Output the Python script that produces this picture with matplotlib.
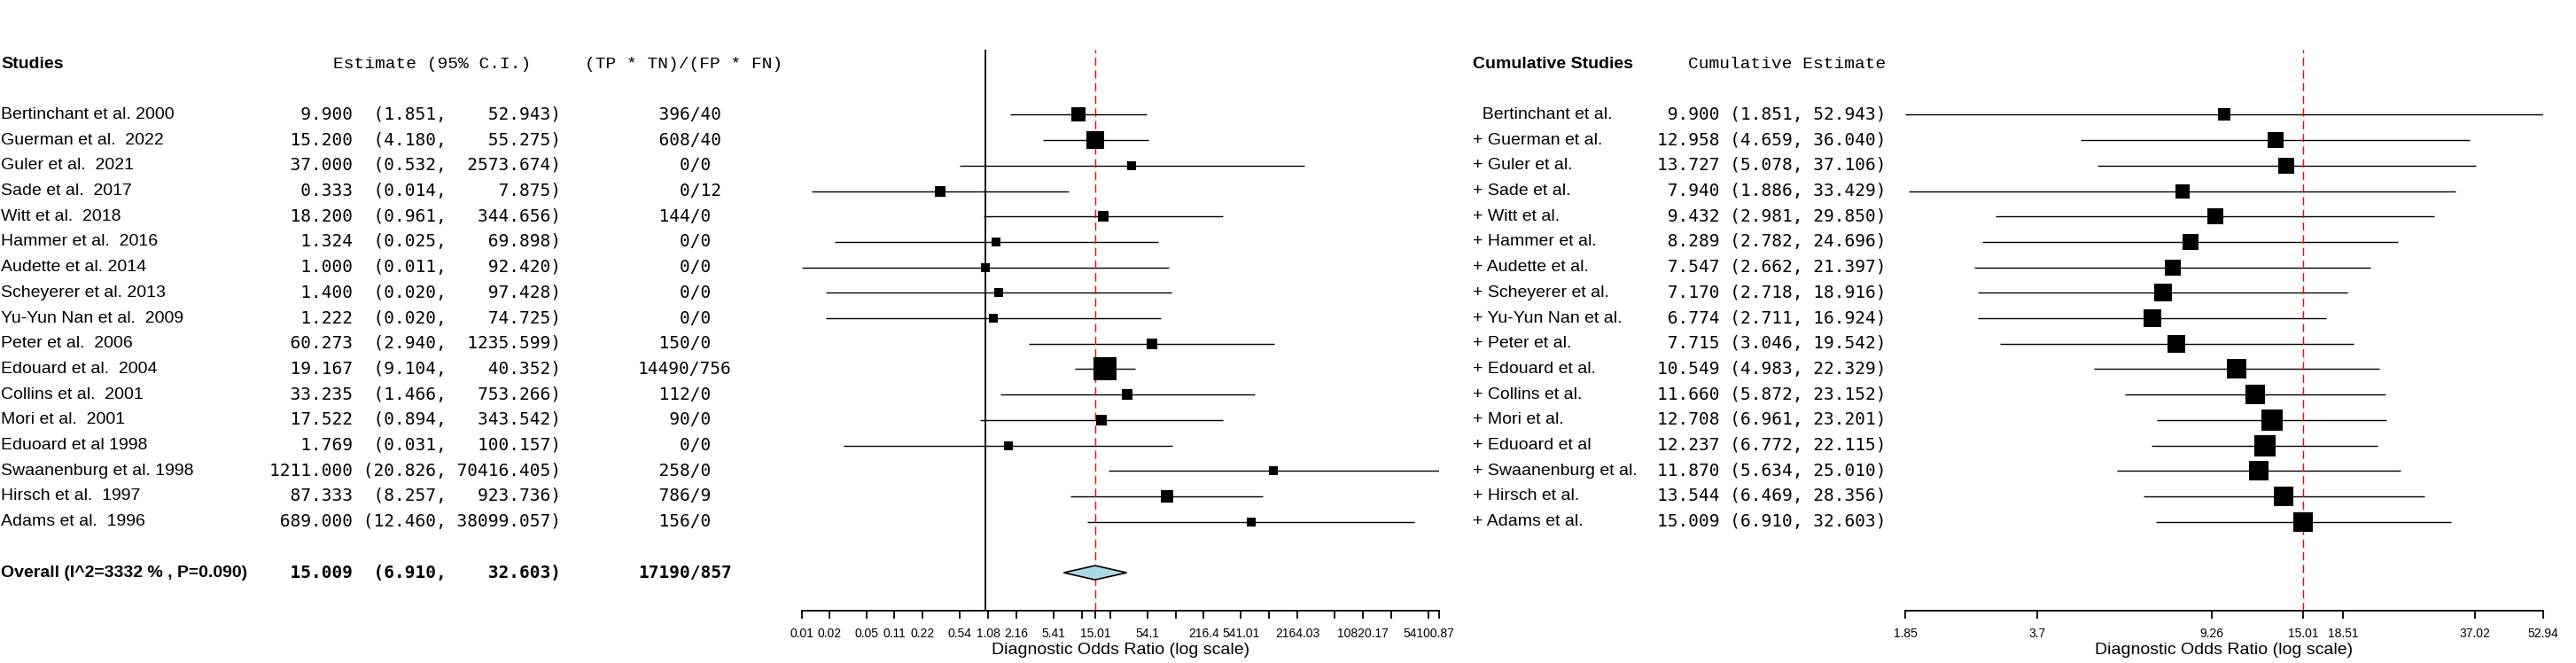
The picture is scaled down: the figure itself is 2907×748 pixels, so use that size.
import matplotlib
matplotlib.use("Agg")
import matplotlib.pyplot as plt
import matplotlib.transforms as mtransforms
from matplotlib.patches import Polygon
from matplotlib.ticker import NullLocator
import numpy as np

plt.rcParams["font.family"] = ["Liberation Sans", "DejaVu Sans"]

# ---- data ----
studies = ["Bertinchant et al. 2000", "Guerman et al.  2022", "Guler et al.  2021",
           "Sade et al.  2017", "Witt et al.  2018", "Hammer et al.  2016",
           "Audette et al. 2014", "Scheyerer et al. 2013", "Yu-Yun Nan et al.  2009",
           "Peter et al.  2006", "Edouard et al.  2004", "Collins et al.  2001",
           "Mori et al.  2001", "Eduoard et al 1998", "Swaanenburg et al. 1998",
           "Hirsch et al.  1997", "Adams et al.  1996"]
est = [9.900, 15.200, 37.000, 0.333, 18.200, 1.324, 1.000, 1.400, 1.222,
       60.273, 19.167, 33.235, 17.522, 1.769, 1211.000, 87.333, 689.000]
lo = [1.851, 4.180, 0.532, 0.014, 0.961, 0.025, 0.011, 0.020, 0.020,
      2.940, 9.104, 1.466, 0.894, 0.031, 20.826, 8.257, 12.460]
hi = [52.943, 55.275, 2573.674, 7.875, 344.656, 69.898, 92.420, 97.428, 74.725,
      1235.599, 40.352, 753.266, 343.542, 100.157, 70416.405, 923.736, 38099.057]
tp_tn = [396, 608, 0, 0, 144, 0, 0, 0, 0, 150, 14490, 112, 90, 0, 258, 786, 156]
fp_fn = [40, 40, 0, 12, 0, 0, 0, 0, 0, 0, 756, 0, 0, 0, 0, 9, 0]

overall_label = "Overall (I^2=3332 % , P=0.090)"
overall_est, overall_lo, overall_hi = 15.009, 6.910, 32.603
overall_tp_tn, overall_fp_fn = 17190, 857

cum_studies = ["  Bertinchant et al.", "+ Guerman et al.", "+ Guler et al.",
               "+ Sade et al.", "+ Witt et al.", "+ Hammer et al.", "+ Audette et al.",
               "+ Scheyerer et al.", "+ Yu-Yun Nan et al.", "+ Peter et al.",
               "+ Edouard et al.", "+ Collins et al.", "+ Mori et al.", "+ Eduoard et al",
               "+ Swaanenburg et al.", "+ Hirsch et al.", "+ Adams et al."]
cum_est = [9.900, 12.958, 13.727, 7.940, 9.432, 8.289, 7.547, 7.170, 6.774,
           7.715, 10.549, 11.660, 12.708, 12.237, 11.870, 13.544, 15.009]
cum_lo = [1.851, 4.659, 5.078, 1.886, 2.981, 2.782, 2.662, 2.718, 2.711,
          3.046, 4.983, 5.872, 6.961, 6.772, 5.634, 6.469, 6.910]
cum_hi = [52.943, 36.040, 37.106, 33.429, 29.850, 24.696, 21.397, 18.916, 16.924,
          19.542, 22.329, 23.152, 23.201, 22.115, 25.010, 28.356, 32.603]

left_ticks = [0.011, 0.02164, 0.0541, 0.1082, 0.2164, 0.541, 1.082, 2.164, 5.41,
              10.82, 15.009, 21.64, 54.1, 108.2, 216.4, 541.01, 1082.02, 2164.03,
              5410.09, 10820.17, 21640.35, 54100.87, 70416.405]
left_tick_labels = ["0.01", "0.02", "0.05", "0.11", "0.22", "0.54", "1.08", "2.16", "5.41",
                    "", "15.01", "", "54.1", "", "216.4", "541.01", "", "2164.03", "",
                    "10820.17", "", "54100.87", ""]
right_ticks = [1.851, 3.702, 9.255, 15.009, 18.51, 37.02, 52.943]
right_tick_labels = ["1.85", "3.7", "9.26", "15.01", "18.51", "37.02", "52.94"]

# ---- layout (pixels) ----
W, H, DPI = 2907, 748, 100
TOP, AXIS_Y, ROW1, ROWH = 56, 689, 129.5, 28.7
MONO = "DejaVu Sans Mono"
HEAD = "Liberation Mono"
FS = 14

fig = plt.figure(figsize=(W / DPI, H / DPI), dpi=DPI)
fig.patch.set_facecolor("white")

rows = np.arange(1, len(studies) + 1)
y_overall = len(studies) + 2
y_head = -1
ytop = 1 + (TOP - ROW1) / ROWH
ybot = 1 + (AXIS_Y - ROW1) / ROWH


def panel(x0, x1, xlim, ticks, labels):
    ax = fig.add_axes([x0 / W, 1 - AXIS_Y / H, (x1 - x0) / W, (AXIS_Y - TOP) / H])
    ax.set_xscale("log")
    ax.set_xlim(*xlim)
    ax.set_ylim(ybot, ytop)
    for s in ("left", "right", "top"):
        ax.spines[s].set_visible(False)
    ax.spines["bottom"].set_linewidth(1.3)
    ax.set_yticks([])
    ax.set_xticks(ticks)
    ax.set_xticklabels(labels)
    ax.xaxis.set_minor_locator(NullLocator())
    ax.tick_params(axis="x", length=6.5, width=1.3, pad=7.5, labelsize=10)
    ax.set_xlabel("Diagnostic Odds Ratio (log scale)", fontsize=FS, labelpad=2)
    ax.patch.set_alpha(0)
    return ax


def boxes(ax, y, e, l, h, k):
    # box side grows with sqrt of the precision of each estimate
    l, h = np.asarray(l), np.asarray(h)
    prec = 3.92 / (np.log(h) - np.log(l))
    side = k * np.sqrt(prec) * 72 / DPI
    ax.hlines(y, l, h, colors="black", lw=1.0, zorder=2)
    for yi, ei, si in zip(y, e, side):
        ax.plot(ei, yi, marker="s", ms=si, color="black", mew=0, zorder=4)


# ---- left panel: individual studies ----
axL = panel(904.5, 1624, (min(lo), max(hi)), left_ticks, left_tick_labels)
axL.axvline(1, color="black", lw=1.3, zorder=1)
axL.axvline(overall_est, color="red", lw=1.0, dashes=(6.7, 3.6), zorder=3)
boxes(axL, rows, est, lo, hi, 15.5)
dh = 8 / ROWH
axL.add_patch(Polygon([(overall_lo, y_overall), (overall_est, y_overall - dh),
                       (overall_hi, y_overall), (overall_est, y_overall + dh)],
                      closed=True, facecolor="#ADD8E6", edgecolor="black", lw=1.2, zorder=5))

tL = mtransforms.blended_transform_factory(fig.transFigure, axL.transData)


def ftxt(trans, xpx, y, s, **kw):
    axL.text(xpx / W, y, s, transform=trans, va="center", ha="left",
             fontsize=FS, clip_on=False, **kw)


ftxt(tL, 1, y_head, "Studies", fontweight="bold")
ftxt(tL, 376, y_head, "Estimate (95% C.I.)", family=HEAD)
ftxt(tL, 660, y_head, "(TP * TN)/(FP * FN)", family=HEAD)


def ci_str(e, l, h):
    return f"{e:8.3f} {'(' + f'{l:.3f},':>8} {f'{h:.3f})':>10}"


for y, name, e, l, h, a, b in zip(rows, studies, est, lo, hi, tp_tn, fp_fn):
    ftxt(tL, 1, y, name)
    ftxt(tL, 304, y, ci_str(e, l, h), family=MONO)
    ftxt(tL, 720, y, f"{a:>5}/{b}", family=MONO)

ftxt(tL, 1, y_overall, overall_label, fontweight="bold")
ftxt(tL, 304, y_overall, ci_str(overall_est, overall_lo, overall_hi),
     family=MONO, fontweight="bold")
ftxt(tL, 720, y_overall, f"{overall_tp_tn:>5}/{overall_fp_fn}", family=MONO, fontweight="bold")

# ---- right panel: cumulative ----
axR = panel(2150, 2870, (min(cum_lo), max(cum_hi)), right_ticks, right_tick_labels)
axR.axvline(cum_est[-1], color="red", lw=1.0, dashes=(6.7, 3.6), zorder=3)
boxes(axR, rows, cum_est, cum_lo, cum_hi, 13.5)

tR = mtransforms.blended_transform_factory(fig.transFigure, axR.transData)
ftxt(tR, 1662, y_head, "Cumulative Studies", fontweight="bold")
ftxt(tR, 1905, y_head, "Cumulative Estimate", family=HEAD)
for y, name, e, l, h in zip(rows, cum_studies, cum_est, cum_lo, cum_hi):
    ftxt(tR, 1662, y, name)
    ftxt(tR, 1870, y, f"{e:6.3f} ({l:.3f}, {h:.3f})", family=MONO)

fig.savefig("out.png", dpi=DPI, facecolor="white")
